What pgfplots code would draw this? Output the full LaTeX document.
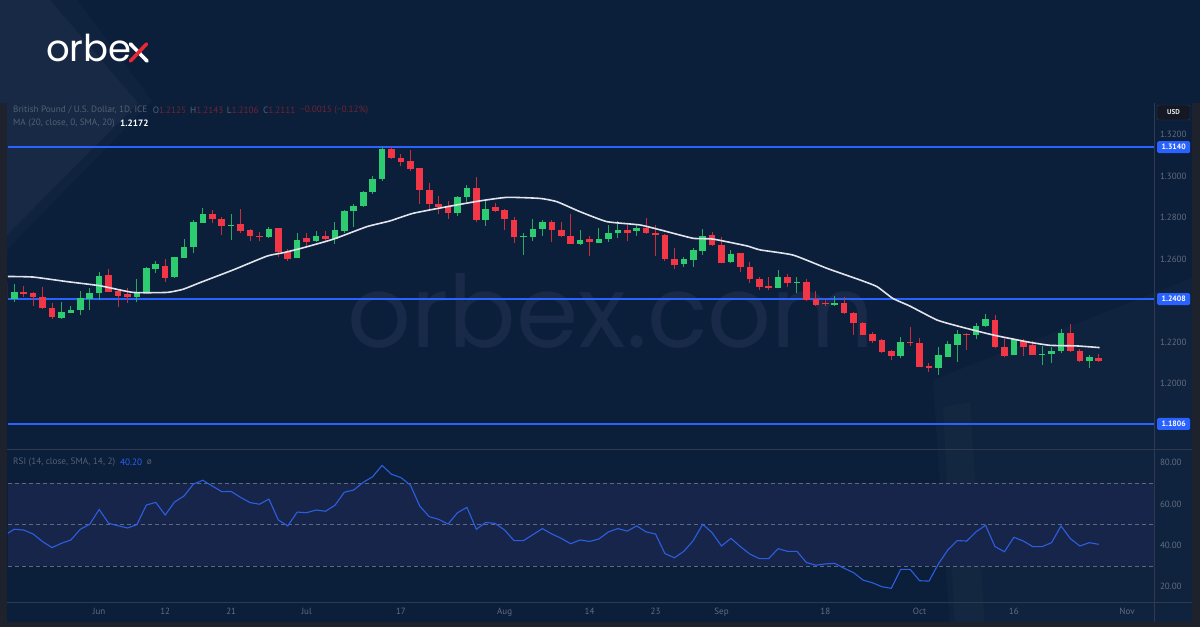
\documentclass[border=0pt]{standalone}
\usepackage{pgfplots}
\pgfplotsset{compat=1.18}
\usepackage{pgfplotstable}
\usepackage{fontspec}
\setmainfont{PT Sans}
\newfontfamily\logofont{Poppins}

\definecolor{bg}{RGB}{11,30,58}
\definecolor{frame}{RGB}{30,34,45}
\definecolor{band}{RGB}{23,37,75}
\definecolor{cup}{RGB}{46,204,113}
\definecolor{cdn}{RGB}{242,54,69}
\definecolor{cupw}{RGB}{38,170,95}
\definecolor{cdnw}{RGB}{200,45,60}
\definecolor{lvl}{RGB}{41,98,255}
\definecolor{rsic}{RGB}{44,94,224}
\definecolor{sep}{RGB}{48,58,78}
\definecolor{dashc}{RGB}{95,105,125}
\definecolor{tickc}{RGB}{98,108,128}
\definecolor{hdr}{RGB}{84,96,116}
\definecolor{hdrred}{RGB}{112,36,50}
\definecolor{mac}{RGB}{225,228,235}
\definecolor{usdbox}{RGB}{19,24,36}
\definecolor{logored}{RGB}{230,40,55}

% up (green) candles: index open high low close
\pgfplotstableread{
i o h l c
0 1.2407 1.2480 1.2395 1.2443
5 1.2317 1.2394 1.2313 1.2344
6 1.2342 1.2376 1.2339 1.2355
7 1.2353 1.2447 1.2329 1.2411
8 1.2410 1.2460 1.2353 1.2435
9 1.2435 1.2540 1.2403 1.2521
13 1.2416 1.2505 1.2393 1.2439
14 1.2439 1.2561 1.2438 1.2556
15 1.2554 1.2591 1.2535 1.2575
17 1.2513 1.2612 1.2511 1.2609
18 1.2607 1.2696 1.2606 1.2660
19 1.2657 1.2789 1.2628 1.2781
20 1.2776 1.2845 1.2775 1.2818
23 1.2760 1.2816 1.2693 1.2766
27 1.2709 1.2757 1.2704 1.2746
30 1.2607 1.2728 1.2604 1.2693
32 1.2688 1.2738 1.2681 1.2710
34 1.2699 1.2781 1.2673 1.2739
35 1.2734 1.2835 1.2728 1.2834
36 1.2832 1.2866 1.2757 1.2856
37 1.2856 1.2931 1.2853 1.2926
38 1.2924 1.3001 1.2913 1.2987
39 1.2985 1.3142 1.2978 1.3130
47 1.2821 1.2905 1.2808 1.2901
48 1.2898 1.2958 1.2877 1.2942
50 1.2789 1.2885 1.2760 1.2844
54 1.2705 1.2725 1.2620 1.2710
55 1.2709 1.2792 1.2689 1.2744
56 1.2746 1.2789 1.2712 1.2779
60 1.2673 1.2741 1.2668 1.2693
62 1.2680 1.2752 1.2676 1.2697
63 1.2696 1.2765 1.2684 1.2725
64 1.2728 1.2786 1.2700 1.2741
66 1.2734 1.2765 1.2712 1.2750
71 1.2575 1.2609 1.2564 1.2599
72 1.2596 1.2652 1.2564 1.2644
73 1.2641 1.2744 1.2620 1.2713
76 1.2585 1.2644 1.2580 1.2625
81 1.2463 1.2548 1.2460 1.2513
83 1.2487 1.2513 1.2435 1.2490
87 1.2378 1.2423 1.2374 1.2387
94 1.2133 1.2227 1.2122 1.2201
98 1.2074 1.2178 1.2040 1.2137
99 1.2130 1.2207 1.2129 1.2191
100 1.2188 1.2259 1.2106 1.2238
102 1.2235 1.2291 1.2214 1.2278
103 1.2278 1.2336 1.2275 1.2312
106 1.2137 1.2218 1.2136 1.2214
109 1.2138 1.2182 1.2090 1.2143
110 1.2141 1.2178 1.2098 1.2159
111 1.2157 1.2262 1.2146 1.2246
114 1.2108 1.2137 1.2074 1.2129
}\upc

% down (red) candles: index open high low close
\pgfplotstableread{
i o h l c
-1 1.2484 1.2492 1.2400 1.2407
1 1.2443 1.2471 1.2416 1.2434
2 1.2435 1.2442 1.2374 1.2416
3 1.2418 1.2467 1.2360 1.2363
4 1.2365 1.2387 1.2310 1.2320
10 1.2524 1.2551 1.2440 1.2443
11 1.2448 1.2450 1.2371 1.2424
12 1.2432 1.2463 1.2390 1.2416
16 1.2567 1.2601 1.2490 1.2509
21 1.2816 1.2837 1.2773 1.2792
22 1.2792 1.2805 1.2717 1.2760
24 1.2768 1.2840 1.2728 1.2736
25 1.2741 1.2744 1.2688 1.2712
26 1.2712 1.2733 1.2689 1.2705
28 1.2749 1.2750 1.2609 1.2636
29 1.2636 1.2648 1.2593 1.2601
31 1.2704 1.2725 1.2664 1.2685
33 1.2710 1.2738 1.2688 1.2699
40 1.3130 1.3140 1.3082 1.3087
41 1.3086 1.3107 1.3049 1.3070
42 1.3072 1.3126 1.3027 1.3035
43 1.3038 1.3040 1.2866 1.2934
44 1.2934 1.2966 1.2840 1.2866
45 1.2866 1.2905 1.2818 1.2850
46 1.2853 1.2882 1.2795 1.2821
49 1.2942 1.2998 1.2781 1.2789
51 1.2850 1.2873 1.2829 1.2834
52 1.2837 1.2840 1.2741 1.2792
53 1.2789 1.2805 1.2680 1.2709
57 1.2779 1.2789 1.2684 1.2741
58 1.2741 1.2779 1.2709 1.2713
59 1.2713 1.2818 1.2672 1.2673
61 1.2696 1.2712 1.2615 1.2681
65 1.2741 1.2765 1.2689 1.2728
67 1.2752 1.2800 1.2721 1.2725
68 1.2725 1.2765 1.2615 1.2715
69 1.2717 1.2721 1.2593 1.2599
70 1.2601 1.2652 1.2551 1.2572
74 1.2715 1.2731 1.2664 1.2667
75 1.2667 1.2709 1.2580 1.2583
77 1.2628 1.2630 1.2540 1.2564
78 1.2564 1.2588 1.2484 1.2503
79 1.2505 1.2512 1.2450 1.2466
80 1.2471 1.2513 1.2452 1.2461
82 1.2513 1.2529 1.2468 1.2487
84 1.2490 1.2503 1.2400 1.2403
85 1.2407 1.2445 1.2374 1.2379
86 1.2390 1.2407 1.2374 1.2382
88 1.2390 1.2419 1.2336 1.2339
89 1.2342 1.2344 1.2235 1.2291
90 1.2294 1.2297 1.2233 1.2235
91 1.2239 1.2251 1.2198 1.2207
92 1.2210 1.2214 1.2149 1.2151
93 1.2157 1.2162 1.2114 1.2133
95 1.2201 1.2272 1.2182 1.2194
96 1.2198 1.2218 1.2080 1.2082
97 1.2087 1.2101 1.2058 1.2076
101 1.2239 1.2243 1.2162 1.2233
104 1.2307 1.2331 1.2170 1.2175
105 1.2178 1.2223 1.2127 1.2133
107 1.2206 1.2214 1.2133 1.2178
108 1.2185 1.2207 1.2136 1.2137
112 1.2246 1.2288 1.2154 1.2159
113 1.2159 1.2165 1.2106 1.2108
115 1.2125 1.2143 1.2106 1.2111
}\dnc

\pgfplotsset{
  seg/.style 2 args={forget plot, mark=none, #1, line width=#2,
    quiver/every arrow/.style={#1, line width=#2, line cap=butt}},
}

\begin{document}
\begin{tikzpicture}
\begin{scope}[x=1pt,y=1pt]
\fill[bg] (0,0) rectangle (1200,627);
% decorative light shapes
\fill[white, fill opacity=0.025] (0,627) -- (77,627) -- (152,526) -- (0,370) -- cycle;
\fill[white, fill opacity=0.03] (0,627) -- (50,627) -- (138,524) -- (0,385) -- cycle;
\fill[white, fill opacity=0.025] (933,247) -- (1200,352) -- (1200,0) -- (950,0) -- cycle;
\fill[white, fill opacity=0.02] (943,220) -- (970,225) -- (985,0) -- (955,0) -- cycle;
% watermark
\node[anchor=base, inner sep=0, text={rgb,255:red,24;green,42;blue,72}, font=\logofont\fontsize{100}{100}\selectfont] at (611,279) {orbex.com};
\end{scope}

% main price panel
\begin{axis}[
  at={(8pt,177pt)}, anchor=south west,
  width=1146pt, height=347pt, scale only axis,
  xmin=-0.668, xmax=120.86, ymin=1.16805, ymax=1.33528,
  axis line style={draw=none},
  xtick=\empty,
  ytick={1.20,1.22,1.26,1.28,1.30,1.32},
  yticklabel pos=right,
  major tick length=0pt,
  scaled y ticks=false,
  yticklabel style={font=\fontsize{9}{10}\selectfont, text=tickc, xshift=2.5pt},
  y tick label style={/pgf/number format/fixed, /pgf/number format/fixed zerofill, /pgf/number format/precision=4, /pgf/number format/assume math mode=true},
  clip mode=individual,
]
% levels (under the candles)
\pgfplotsinvokeforeach{1.3140,1.2408,1.1806}{
  \draw[draw=lvl, draw opacity=1, line width=1.4pt] ({rel axis cs:0,0} |- {axis cs:0,#1}) -- ({rel axis cs:1,0} |- {axis cs:0,#1});
}
% wicks
\addplot[seg={cupw}{1pt}, quiver={u=0, v=\thisrow{h}-\thisrow{l}}]
  table[x=i, y=l] {\upc};
\addplot[seg={cdnw}{1pt}, quiver={u=0, v=\thisrow{h}-\thisrow{l}}]
  table[x=i, y=l] {\dnc};
% bodies
\addplot[seg={cup}{6.6pt}, quiver={u=0, v={max(\thisrow{c}-\thisrow{o},0.0003)}}]
  table[x=i, y=o] {\upc};
\addplot[seg={cdn}{6.6pt}, quiver={u=0, v={max(\thisrow{o}-\thisrow{c},0.0003)}}]
  table[x=i, y=c] {\dnc};
% MA 20
\addplot[mac, line width=1.6pt, smooth, tension=0.3, mark=none] coordinates {
(-1,1.2517) (1.98,1.2514) (5.59,1.2492) (9.09,1.2472) (12.59,1.2440) (16.19,1.2440)
(17.89,1.2455) (19.69,1.2487) (23.19,1.2548) (26.80,1.2615) (28.49,1.2631) (30.30,1.2651)
(33.80,1.2696) (37.40,1.2757) (39.8,1.2784) (42.28,1.2821) (45.89,1.2853) (49.38,1.2881)
(52.25,1.2898) (55.75,1.2893) (57.55,1.2877) (59.99,1.2829) (62.85,1.2781) (66.35,1.2765)
(68.79,1.2738) (71.97,1.2701) (74.09,1.2697) (77.70,1.2664) (79.08,1.2645) (82.58,1.2620)
(86.18,1.2556) (89.68,1.2500) (91.48,1.2468) (93.17,1.2411) (94.98,1.2374) (97.85,1.2307)
(100.28,1.2275) (103.78,1.2235) (107.39,1.2202) (109.83,1.2185) (112.69,1.2182) (115.1,1.2174)
};
\pgfplotsinvokeforeach{1.3140,1.2408,1.1806}{
  \node[fill=lvl, rounded corners=1.5pt, text=white, inner sep=0pt, minimum width=33pt, minimum height=12pt, anchor=west, xshift=3pt, font=\bfseries\fontsize{7.8}{8}\selectfont]
    at ({rel axis cs:1,0} |- {axis cs:0,#1}) {#1};
}
\end{axis}

% RSI panel
\begin{axis}[
  at={(8pt,25pt)}, anchor=south west,
  width=1146pt, height=152pt, scale only axis,
  xmin=-0.668, xmax=120.86, ymin=12.59, ymax=86.15,
  axis line style={draw=none},
  major tick length=0pt,
  xtick={9,16,23,31,41,52,61,68,75,86,96,106,118},
  xticklabels={Jun,12,21,Jul,17,Aug,14,23,Sep,18,Oct,16,Nov},
  xticklabel style={font=\fontsize{9}{10}\selectfont, text=tickc, yshift=-3pt},
  ytick={20,40,60,80},
  yticklabel pos=right,
  yticklabel style={font=\fontsize{9}{10}\selectfont, text=tickc, xshift=2.5pt},
  y tick label style={/pgf/number format/fixed, /pgf/number format/fixed zerofill, /pgf/number format/precision=2, /pgf/number format/assume math mode=true},
  clip mode=individual,
]
\fill[band] (axis cs:-0.668,30) rectangle (axis cs:120.86,70);
\draw[dashc, line width=0.8pt, dash pattern=on 4pt off 3pt] (axis cs:-0.668,70) -- (axis cs:120.86,70);
\draw[dashc, line width=0.8pt, dash pattern=on 4pt off 3pt] (axis cs:-0.668,50) -- (axis cs:120.86,50);
\draw[dashc, line width=0.8pt, dash pattern=on 4pt off 3pt] (axis cs:-0.668,30) -- (axis cs:120.86,30);
\addplot[rsic, line width=1.1pt, mark=none] coordinates {
(-1,45.0) (0,47.8) (1,47.4) (2,45.5) (3,41.8) (4,38.9) (5,41.0) (6,42.6) (7,47.8) (8,50.2)
(9,57.4) (10,50.7) (11,49.5) (12,48.4) (13,50.0) (14,59.5) (15,60.8) (16,54.7) (17,61.0)
(18,63.9) (19,69.7) (20,71.5) (21,68.7) (22,66.0) (23,66.1) (24,63.2) (25,60.7) (26,59.9)
(27,62.4) (28,52.3) (29,49.4) (30,56.1) (31,55.8) (32,57.1) (33,56.5) (34,59.4) (35,65.7)
(36,66.8) (37,70.5) (38,73.2) (39,78.7) (40,74.4) (41,72.8) (42,69.2) (43,59.0) (44,53.9)
(45,52.6) (46,50.3) (47,55.8) (48,58.4) (49,47.8) (50,51.1) (51,50.6) (52,47.4) (53,42.3)
(54,42.3) (55,45.2) (56,48.1) (57,45.5) (58,43.4) (59,40.8) (60,42.6) (61,41.9) (62,43.1)
(63,46.5) (64,48.1) (65,46.9) (66,49.4) (67,46.5) (68,45.5) (69,36.0) (70,34.0) (71,37.1)
(72,42.3) (73,50.2) (74,46.1) (75,39.7) (76,43.4) (77,39.4) (78,35.8) (79,33.6) (80,33.6)
(81,38.4) (82,37.1) (83,37.1) (84,31.7) (85,30.4) (86,31.0) (87,31.3) (88,28.9) (89,26.8)
(90,23.2) (91,21.9) (92,20.0) (93,19.2) (94,28.4) (95,28.4) (96,22.9) (97,22.7) (98,31.0)
(99,37.8) (100,42.3) (101,42.1) (102,46.6) (103,49.7) (104,39.4) (105,36.9) (106,43.9)
(107,42.1) (108,39.4) (109,39.4) (110,41.3) (111,49.4) (112,43.2) (113,39.7) (114,41.3) (115,40.5)
};
\end{axis}

\begin{scope}[x=1pt,y=1pt]
% frame and separators
\fill[frame] (0,0) rectangle (7,524);
\fill[frame] (1192,0) rectangle (1200,524);
\fill[frame] (0,0) rectangle (1200,5);
\draw[sep, line width=1pt] (1154,5) -- (1154,524);
\draw[sep, line width=1pt] (7,177) -- (1192,177);
\draw[sep, line width=1pt] (7,25) -- (1192,25);

% USD box
\node[fill=usdbox, draw=sep, rounded corners=2pt, minimum width=33pt, minimum height=15pt, inner sep=0pt, text=white!85!gray, font=\bfseries\fontsize{7}{8}\selectfont] at (1173.5,514.5) {USD};

% header texts
\begin{scope}[every node/.style={anchor=west, inner sep=0pt, font=\fontsize{9.2}{10}\selectfont}]
\node[text=hdr] at (13,517) {British Pound / U.S. Dollar, 1D, ICE};
\node[text=hdrred] at (152.7,517) {{\color{hdr}O}1.2125};
\node[text=hdrred] at (190,517) {{\color{hdr}H}1.2143};
\node[text=hdrred] at (226.7,517) {{\color{hdr}L}1.2106};
\node[text=hdrred] at (263,517) {{\color{hdr}C}1.2111};
\node[text=hdrred] at (300,517) {−0.0015 (−0.12\%)};
\node[text=hdr] at (13,504) {MA (20, close, 0, SMA, 20)};
\node[text=white, font=\bfseries\fontsize{9.2}{10}\selectfont] at (120,504) {1.2172};
\node[text=hdr] at (13,165) {RSI (14, close, SMA, 14, 2)};
\node[text=lvl] at (120,165) {40.20};
\node[text=hdr] at (146.7,165) {ø};
\end{scope}

% logo
\node[anchor=base west, inner sep=0pt, text=white, font=\logofont\fontsize{37}{37}\selectfont] at (46,565) {orbe};
\draw[white, line width=3.6pt, line cap=round] (130.5,583) -- (147,566);
\draw[logored, line width=3.6pt, line cap=round] (146.5,583) -- (130.5,566);
\end{scope}
\pgfresetboundingbox
\path[use as bounding box] (0,0) rectangle (1200pt,627pt);
\end{tikzpicture}
\end{document}
